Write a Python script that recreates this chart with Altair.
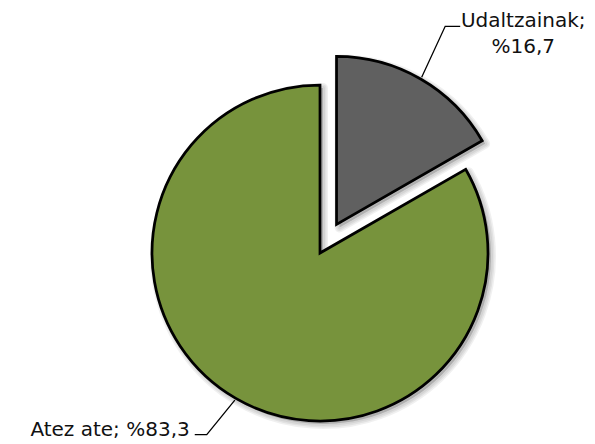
import altair as alt
import pandas as pd

categories = ["Udaltzainak", "Atez ate"]
values = [16.7, 83.3]
labels = ["Udaltzainak;\n%16,7", "Atez ate; %83,3"]
colors = ["#606060", "#77933C"]

df = pd.DataFrame({"category": categories, "value": values, "label": labels,
                   "idx": list(range(len(categories)))})

W, H = 579, 436
CX, CY, R = 312, 245, 168
EXPLODE = 33
RE_R, RE_L = 226, 214
ANG_R, ANG_L = -0.023, 0.033   # elbow angle offsets (radians)
TAIL_R, TAIL_L = 15, -12

base = (
    alt.Chart(df)
    .transform_window(cum="sum(value)", sort=[alt.SortField("idx")])
    .transform_joinaggregate(total="sum(value)")
    .transform_calculate(t0="(datum.cum - datum.value) / datum.total * 2 * PI",
                         t1="datum.cum / datum.total * 2 * PI")
    .transform_calculate(mid="(datum.t0 + datum.t1) / 2",
                         ex=f"datum.category === '{categories[0]}' ? {EXPLODE} : 0")
    .transform_calculate(cx=f"{CX} + datum.ex * sin(datum.mid)",
                         cy=f"{CY} - datum.ex * cos(datum.mid)",
                         s="sin(datum.mid)", c="cos(datum.mid)")
    .transform_calculate(re=f"datum.s > 0 ? {RE_R} : {RE_L}",
                         ea=f"datum.mid + (datum.s > 0 ? {ANG_R} : {ANG_L})")
    .transform_calculate(ex_x="datum.cx + datum.re * sin(datum.ea)",
                         ex_y="datum.cy - datum.re * cos(datum.ea)")
    .transform_calculate(tx=f"datum.ex_x + (datum.s > 0 ? {TAIL_R} : {TAIL_L})")
)

def arc_enc(xf, yf, color):
    return dict(
        x=alt.X(xf, scale=None, axis=None),
        y=alt.Y(yf, scale=None, axis=None),
        theta=alt.Theta("t0:Q", scale=None),
        theta2=alt.Theta2("t1:Q"),
        color=color,
    )

shadows = []
for sw in [10, 7, 4]:
    shadows.append(
        base.transform_calculate(sx="datum.cx + 3", sy="datum.cy + 3")
        .mark_arc(outerRadius=R, fill="black", fillOpacity=0.06, stroke="black",
                  strokeOpacity=0.06, strokeWidth=sw, strokeJoin="round")
        .encode(**arc_enc("sx:Q", "sy:Q", alt.value("black")))
    )

arcs = base.mark_arc(outerRadius=R, stroke="black", strokeWidth=2.75,
                     strokeJoin="miter", opacity=1).encode(
    **arc_enc("cx:Q", "cy:Q",
              alt.Color("category:N", scale=alt.Scale(domain=categories, range=colors),
                        legend=None))
)

leader = (
    base.transform_calculate(pts="[0, 1, 2]")
    .transform_flatten(["pts"])
    .transform_calculate(
        lx=f"datum.pts == 0 ? datum.cx + {R + 2} * datum.s : (datum.pts == 1 ? datum.ex_x : datum.tx)",
        ly=f"datum.pts == 0 ? datum.cy - {R + 2} * datum.c : datum.ex_y",
    )
    .mark_line(color="black", strokeWidth=1.3)
    .encode(x=alt.X("lx:Q", scale=None, axis=None),
            y=alt.Y("ly:Q", scale=None, axis=None),
            detail="category:N", order="pts:Q")
)

text_props = dict(font="DejaVu Sans", fontSize=20, color="#111111",
                  lineBreak="\n", lineHeight=26, baseline="alphabetic")

text_right = base.transform_filter("datum.s > 0").mark_text(
    align="center", dx=63, dy=1, **text_props).encode(
    x=alt.X("tx:Q", scale=None, axis=None), y=alt.Y("ex_y:Q", scale=None, axis=None),
    text="label:N")

text_left = base.transform_filter("datum.s <= 0").mark_text(
    align="right", dx=-5, dy=1, **text_props).encode(
    x=alt.X("tx:Q", scale=None, axis=None), y=alt.Y("ex_y:Q", scale=None, axis=None),
    text="label:N")

chart = alt.layer(*shadows, arcs, leader, text_right, text_left).properties(
    width=W, height=H, padding=0, autosize="none",
    background="white"
).configure_view(stroke=None)

chart.save("out.html", embed_options={"renderer": "svg", "actions": False})
